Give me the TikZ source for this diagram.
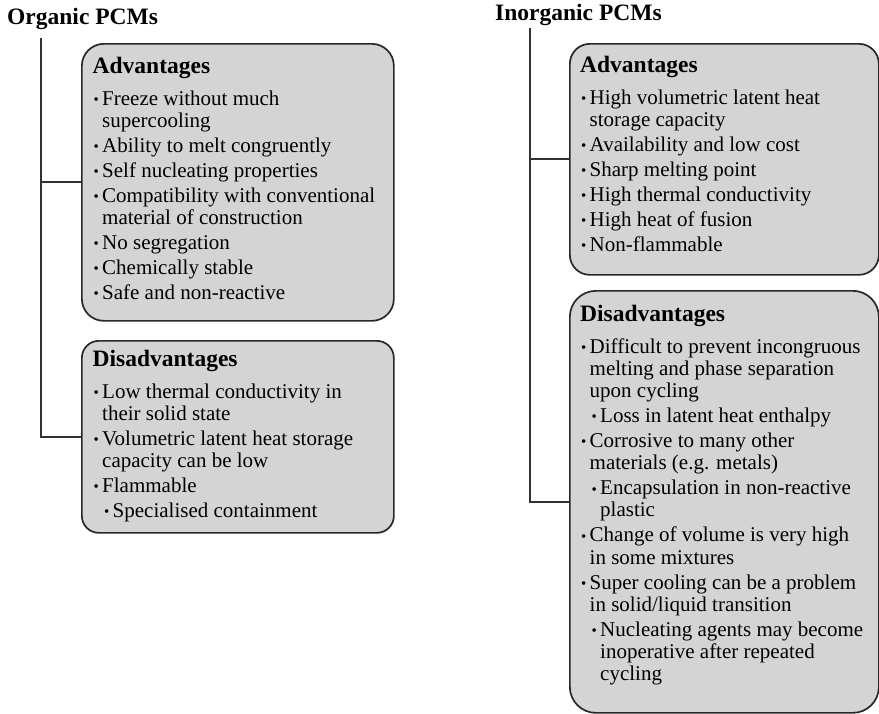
\documentclass[tikz,border=0pt]{standalone}
\usepackage{fontspec}
\setmainfont{Liberation Serif}

\definecolor{boxgray}{RGB}{212,212,212}
\definecolor{edgegray}{RGB}{40,40,40}
\definecolor{linegray}{RGB}{50,50,50}

% Small bullet, bold heading, first and second level items
\newcommand{\pcmdot}{\raisebox{0.6pt}{\fontsize{15}{15}\selectfont\textbullet}}
\newcommand{\pcmhead}[1]{\noindent{\fontsize{23.5}{26}\selectfont\bfseries #1}\par\vspace{7pt}}
\newcommand{\pcmitem}[1]{\par\vspace{2.8pt}\noindent\hangindent=9.5pt\hangafter=1\makebox[9.5pt][l]{\hspace{1pt}\pcmdot}#1}
\newcommand{\pcmsub}[1]{\par\vspace{2.8pt}\noindent\hangindent=20pt\hangafter=1\hspace*{10.5pt}\makebox[9.5pt][l]{\hspace{1pt}\pcmdot}#1}
\newcommand{\pcmlist}[1]{\parbox[t]{320pt}{\raggedright\fontsize{21}{22.2}\selectfont #1}}

\begin{document}
\begin{tikzpicture}[x=1pt, y=-1pt,
    pcmbox/.style={draw=edgegray, line width=1.7pt, fill=boxgray, rounded corners=#1, inner sep=0pt, anchor=north west},
    pcmbox/.default=20pt,
    pcmtext/.style={inner sep=0pt, anchor=base west, text=black},
    pcmtitle/.style={inner sep=0pt, anchor=base west, font=\fontsize{23.5}{26}\selectfont\bfseries},
    link/.style={draw=linegray, line width=1.8pt}]

    % Keep the page at the size of the original figure
    \useasboundingbox (0,0) rectangle (879,713);

    % Organic PCMs: title and the start of its trunk line
    \node[pcmtitle] (orgtitle) at (7,24) {Organic PCMs};
    \coordinate (orgtrunk) at (41,38);

    % Boxes of the organic branch
    \node[pcmbox=22pt, minimum width=312pt, minimum height=277pt] (orgadv) at (81,43) {};
    \node[pcmbox=17pt, minimum width=312pt, minimum height=192pt] (orgdis) at (81,340) {};

    % Trunk and branches to the organic boxes
    \draw[link] (orgtrunk) |- (orgdis.west);
    \draw[link] (orgadv.west) -- (orgadv.west -| orgtrunk);

    % Texts of the organic boxes
    \node[pcmtext] (orgadvtext) at ([shift={(11.5,30)}]orgadv.north west) {\pcmlist{%
        \pcmhead{Advantages}
        \pcmitem{Freeze without much\newline supercooling}
        \pcmitem{Ability to melt congruently}
        \pcmitem{Self nucleating properties}
        \pcmitem{Compatibility with conventional\newline material of construction}
        \pcmitem{No segregation}
        \pcmitem{Chemically stable}
        \pcmitem{Safe and non-reactive}}};
    \node[pcmtext] (orgdistext) at ([shift={(11.5,26)}]orgdis.north west) {\pcmlist{%
        \pcmhead{Disadvantages}
        \pcmitem{Low thermal conductivity in\newline their solid state}
        \pcmitem{Volumetric latent heat storage\newline capacity can be low}
        \pcmitem{Flammable}
        \pcmsub{Specialised containment}}};

    % Inorganic PCMs: title and the start of its trunk line
    \node[pcmtitle] (inorgtitle) at (495,20) {Inorganic PCMs};
    \coordinate (inorgtrunk) at (530,28);

    % Boxes of the inorganic branch
    \node[pcmbox=20pt, minimum width=309pt, minimum height=231pt] (inorgadv) at (569,43) {};
    \node[pcmbox=26pt, minimum width=309pt, minimum height=422pt] (inorgdis) at (569,290) {};

    % Trunk and branches to the inorganic boxes
    \draw[link] (inorgtrunk) |- (inorgdis.west);
    \draw[link] (inorgadv.west) -- (inorgadv.west -| inorgtrunk);

    % Texts of the inorganic boxes
    \node[pcmtext] (inorgadvtext) at ([shift={(11,29)}]inorgadv.north west) {\pcmlist{%
        \pcmhead{Advantages}
        \pcmitem{High volumetric latent heat\newline storage capacity}
        \pcmitem{Availability and low cost}
        \pcmitem{Sharp melting point}
        \pcmitem{High thermal conductivity}
        \pcmitem{High heat of fusion}
        \pcmitem{Non-flammable}}};
    \node[pcmtext] (inorgdistext) at ([shift={(11,31)}]inorgdis.north west) {\pcmlist{%
        \pcmhead{Disadvantages}
        \pcmitem{Difficult to prevent incongruous\newline melting and phase separation\newline upon cycling}
        \pcmsub{Loss in latent heat enthalpy}
        \pcmitem{Corrosive to many other\newline materials (e.g. metals)}
        \pcmsub{Encapsulation in non-reactive\newline plastic}
        \pcmitem{Change of volume is very high\newline in some mixtures}
        \pcmitem{Super cooling can be a problem\newline in solid/liquid transition}
        \pcmsub{Nucleating agents may become\newline inoperative after repeated\newline cycling}}};

\end{tikzpicture}
\end{document}
